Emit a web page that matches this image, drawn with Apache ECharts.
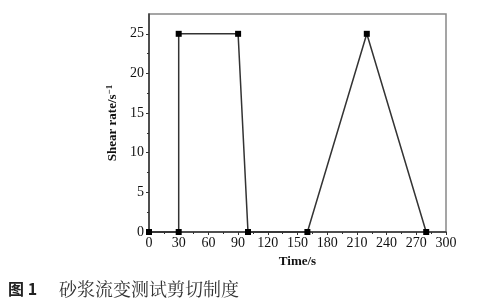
<!DOCTYPE html>
<html><head><meta charset="utf-8">
<script src="https://cdn.jsdelivr.net/npm/echarts@6/dist/echarts.min.js"></script>
<style>html,body{margin:0;padding:0;background:#fff}#c{width:499px;height:304px}</style>
</head><body><div id="c"></div>
<script>
const timeS = [0, 30, 30, 90, 100, 160, 220, 280];
const shearRate = [0, 0, 25, 25, 0, 0, 25, 0];
const xTicks = [0,30,60,90,120,150,180,210,240,270,300];
const yTicks = [0,5,10,15,20,25];
const xName = 'Time/s';
const captionNum = '图 1';
const captionText = '砂浆流变测试剪切制度';

const chart = echarts.init(document.getElementById('c'));
const serif = '"Liberation Serif","DejaVu Serif",serif';
chart.setOption({
  animation:false,
  grid:{left:149,right:53,top:14,bottom:72,show:true,borderColor:'#888',borderWidth:1.5},
  xAxis:{type:'value',min:0,max:300,interval:30,
    axisLine:{onZero:false,lineStyle:{color:'#333',width:1.5}},
    axisTick:{show:true,length:3,lineStyle:{color:'#333'}},
    minorTick:{show:true,splitNumber:2,length:2,lineStyle:{color:'#333'}},
    splitLine:{show:false},
    axisLabel:{color:'#111',fontFamily:serif,fontSize:14,margin:4},
    name:xName,nameLocation:'middle',nameGap:22,
    nameTextStyle:{color:'#111',fontFamily:serif,fontSize:13,fontWeight:'bold'}},
  yAxis:{type:'value',min:0,max:27.5,interval:5,
    axisLine:{lineStyle:{color:'#333',width:1.5}},
    axisTick:{show:true,length:3,lineStyle:{color:'#333'},customValues:yTicks},
    minorTick:{show:true,splitNumber:2,length:2,lineStyle:{color:'#333'}},
    splitLine:{show:false},
    axisLabel:{color:'#111',fontFamily:serif,fontSize:14,margin:5,customValues:yTicks},
    name:'{a|Shear rate/s}{s|−1}',nameLocation:'middle',nameGap:28,
    nameTextStyle:{rich:{a:{color:'#111',fontFamily:serif,fontSize:13,fontWeight:'bold'},
      s:{color:'#111',fontFamily:serif,fontSize:9,fontWeight:'bold',verticalAlign:'top',padding:[0,0,6,0]}}}},
  series:[{type:'line',data:timeS.map((t,i)=>[t,shearRate[i]]),
    symbol:'rect',symbolSize:6,clip:false,
    lineStyle:{color:'#333',width:1.5},itemStyle:{color:'#000'}}],
  graphic:[
    {type:'text',left:8,top:281,style:{text:captionNum,fill:'#222',
      font:'bold 16px "Noto Sans CJK SC"'}},
    {type:'text',left:59,top:280,style:{text:captionText,fill:'#333',
      font:'18px "Noto Serif CJK SC","Noto Sans CJK SC"'}}
  ]
});
</script></body></html>
